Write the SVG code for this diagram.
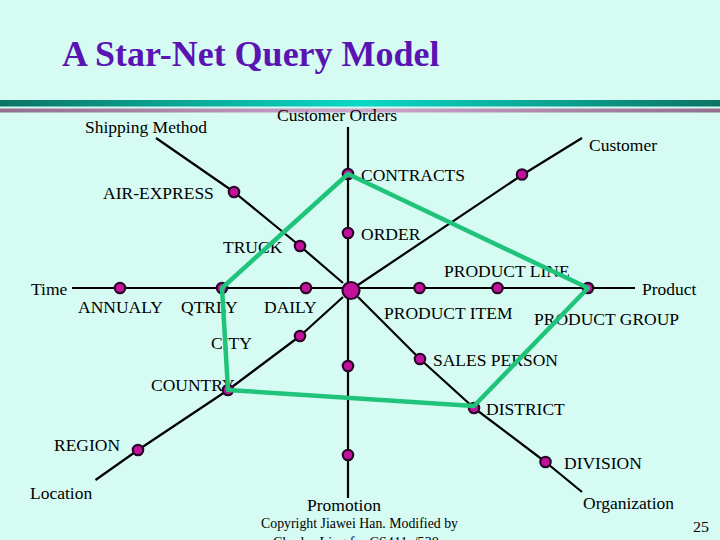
<svg xmlns="http://www.w3.org/2000/svg" width="720" height="540" viewBox="0 0 720 540">
<defs>
<linearGradient id="teal" x1="0" y1="0" x2="1" y2="0">
<stop offset="0" stop-color="#0b7464"/>
<stop offset="0.5" stop-color="#0ad8c6"/>
<stop offset="1" stop-color="#0b7464"/>
</linearGradient>
<linearGradient id="mauve" x1="0" y1="0" x2="1" y2="0">
<stop offset="0" stop-color="#936c8e"/>
<stop offset="0.5" stop-color="#cfa6cc"/>
<stop offset="1" stop-color="#936c8e"/>
</linearGradient>
</defs>
<style>
text{font-family:"Liberation Serif","Times New Roman",serif;font-size:17.5px;fill:#000}
.title{font-size:36px;font-weight:bold;fill:#5a14b4}
.spoke{fill:none;stroke:#000;stroke-width:2.2;stroke-linejoin:round}
.node{fill:#c2129c;stroke:#2a0628;stroke-width:2.2}
.net{fill:none;stroke:#1fc47a;stroke-width:4.5;stroke-linejoin:round}
.small{font-size:15.5px}
</style>
<rect width="720" height="540" fill="#d5fbf3"/>
<rect x="0" y="100" width="720" height="6.5" fill="url(#teal)"/>
<rect x="0" y="108.5" width="720" height="4" fill="url(#mauve)"/>
<text class="title" x="62" y="66">A Star-Net Query Model</text>

<g id="connectors">
<polyline class="spoke" points="156,138 234,192 300,246 343,283"/>
<line class="spoke" x1="348" y1="127" x2="348" y2="498"/>
<polyline class="spoke" points="582,138 522,175 358,285"/>
<line class="spoke" x1="72" y1="288" x2="635" y2="288"/>
<polyline class="spoke" points="343,297 300,336 228,390 138,450 95.5,480"/>
<polyline class="spoke" points="358,297 420,359 474,408 545.5,462 582,492"/>
</g>

<g id="center"><circle class="node" cx="351" cy="290.5" r="8.5"/></g>
<g id="shipping-method"><text x="85" y="133">Shipping Method</text></g>
<g id="air-express"><circle class="node" cx="234" cy="192" r="5.2"/><text x="103" y="199">AIR-EXPRESS</text></g>
<g id="truck"><circle class="node" cx="300" cy="246" r="5.2"/><text x="223" y="253">TRUCK</text></g>
<g id="customer-orders"><text x="277" y="121">Customer Orders</text></g>
<g id="contracts"><circle class="node" cx="348" cy="174" r="5.2"/><text x="361" y="181">CONTRACTS</text></g>
<g id="order"><circle class="node" cx="348" cy="233" r="5.2"/><text x="361" y="240">ORDER</text></g>
<g id="customer"><circle class="node" cx="522" cy="174.5" r="5.2"/><text x="589" y="151">Customer</text></g>
<g id="time"><text x="31" y="295">Time</text></g>
<g id="annualy"><circle class="node" cx="120" cy="288" r="5.2"/><text x="78" y="313">ANNUALY</text></g>
<g id="qtrly"><circle class="node" cx="222" cy="288" r="5.2"/><text x="181" y="313">QTRLY</text></g>
<g id="daily"><circle class="node" cx="306" cy="288" r="5.2"/><text x="264" y="313">DAILY</text></g>
<g id="product-item"><circle class="node" cx="419.5" cy="288" r="5.2"/><text x="384" y="318.5">PRODUCT ITEM</text></g>
<g id="product-line"><circle class="node" cx="497.5" cy="288" r="5.2"/><text x="444" y="277">PRODUCT LINE</text></g>
<g id="product-group"><circle class="node" cx="588" cy="288" r="5.2"/><text x="534" y="324.5">PRODUCT GROUP</text></g>
<g id="product"><text x="642" y="294.5">Product</text></g>
<g id="city"><circle class="node" cx="300" cy="336" r="5.2"/><text x="211" y="348.5">CITY</text></g>
<g id="country"><circle class="node" cx="228" cy="390" r="5.2"/><text x="151" y="391">COUNTRY</text></g>
<g id="region"><circle class="node" cx="138" cy="450" r="5.2"/><text x="54" y="451">REGION</text></g>
<g id="location"><text x="30" y="499">Location</text></g>
<g id="promo-1"><circle class="node" cx="348" cy="366" r="5.2"/></g>
<g id="promo-2"><circle class="node" cx="348" cy="455" r="5.2"/></g>
<g id="promotion"><text x="307" y="511">Promotion</text></g>
<g id="sales-person"><circle class="node" cx="420" cy="359" r="5.2"/><text x="433" y="366">SALES PERSON</text></g>
<g id="district"><circle class="node" cx="474" cy="408" r="5.2"/><text x="486" y="414.5">DISTRICT</text></g>
<g id="division"><circle class="node" cx="545.5" cy="462" r="5.2"/><text x="564" y="468.5">DIVISION</text></g>
<g id="organization"><text x="583" y="509">Organization</text></g>

<g id="star-net-query">
<polygon class="net" points="222,288 348,174 588,288 474,406 228,390"/>
</g>

<text class="small" x="261" y="528" textLength="197" lengthAdjust="spacingAndGlyphs">Copyright Jiawei Han. Modified by</text>
<text class="small" x="273" y="547" textLength="172" lengthAdjust="spacingAndGlyphs">Charles Ling for CS411a/538a</text>
<text class="small" x="693" y="532" textLength="16" lengthAdjust="spacingAndGlyphs">25</text>
</svg>
